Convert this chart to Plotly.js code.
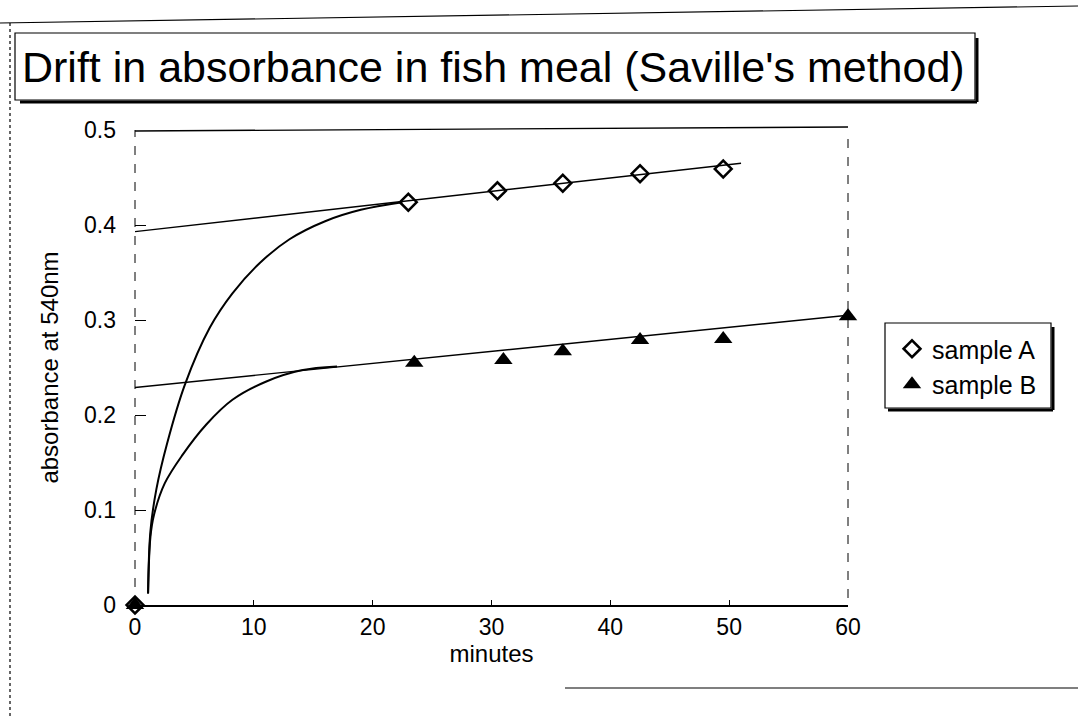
<!DOCTYPE html>
<html>
<head>
<meta charset="utf-8">
<script src="https://cdn.plot.ly/plotly-3.0.1.min.js"></script>
<style>html,body{margin:0;padding:0;background:#fff;}#chart{width:1078px;height:716px;}</style>
</head>
<body>
<div id="chart"></div>
<script>
// ---- data ----
const sampleA_x = [0, 23, 30.5, 36, 42.5, 49.5];
const sampleA_y = [0, 0.424, 0.436, 0.444, 0.454, 0.459];
const sampleB_x = [0, 23.5, 31, 36, 42.5, 49.5, 60];
const sampleB_y = [0, 0.255, 0.258, 0.267, 0.279, 0.280, 0.304];
// hand-drawn drift curves
const curveA_x = [1.1, 1.3, 1.8, 2.7, 4.2, 6.3, 8.2, 10.5, 13, 16, 19, 22.5];
const curveA_y = [0.012, 0.078, 0.122, 0.170, 0.232, 0.292, 0.328, 0.360, 0.385, 0.404, 0.416, 0.424];
const curveB_x = [1.1, 1.3, 1.6, 2.5, 4.0, 6.0, 8.2, 11, 14, 17];
const curveB_y = [0.012, 0.072, 0.095, 0.128, 0.158, 0.19, 0.216, 0.235, 0.247, 0.251];
// straight extrapolation lines
const lineA_x = [0, 51];
const lineA_y = [0.393, 0.465];
const lineB_x = [0, 60];
const lineB_y = [0.229, 0.305];
const xTicks = [0, 10, 20, 30, 40, 50, 60];
const yTicks = [0, 0.1, 0.2, 0.3, 0.4, 0.5];
const yTickText = ['0', '0.1', '0.2', '0.3', '0.4', '0.5'];

// ---- layout geometry (pixels) ----
const W = 1078, H = 716;
const L = 135, R = 848, T = 130, B = 605;
const pw = R - L, ph = B - T;
const px = v => (v - L) / pw;
const py = v => (B - v) / ph;
const FONT = 'Liberation Sans, Arial, sans-serif';

const lineStyle = {color: '#000', width: 1.4};
const traces = [
  {x: lineA_x, y: lineA_y, mode: 'lines', line: lineStyle, showlegend: false, hoverinfo: 'skip'},
  {x: lineB_x, y: lineB_y, mode: 'lines', line: lineStyle, showlegend: false, hoverinfo: 'skip'},
  {x: curveA_x, y: curveA_y, mode: 'lines', line: {color: '#000', width: 2, shape: 'spline', smoothing: 1}, showlegend: false, hoverinfo: 'skip'},
  {x: curveB_x, y: curveB_y, mode: 'lines', line: {color: '#000', width: 2, shape: 'spline', smoothing: 1}, showlegend: false, hoverinfo: 'skip'},
  {x: sampleA_x, y: sampleA_y, name: 'sample A', mode: 'markers', cliponaxis: false,
   marker: {symbol: 'diamond-open', size: 13, color: '#000', line: {width: 2.5, color: '#000'}}},
  {x: sampleB_x, y: sampleB_y, name: 'sample B', mode: 'markers', cliponaxis: false,
   marker: {symbol: 'triangle-up', size: 16, color: '#000'}}
];

const shapes = [
  // plot frame: dashed verticals, solid top
  {type: 'line', xref: 'paper', yref: 'paper', x0: 0, x1: 0, y0: 0, y1: 1, line: {color: '#000', width: 1, dash: 'dash'}},
  {type: 'line', xref: 'paper', yref: 'paper', x0: 1, x1: 1, y0: py(598), y1: 1, line: {color: '#000', width: 1, dash: 'dash'}},
  {type: 'line', xref: 'paper', yref: 'paper', x0: 0, x1: 1, y0: py(131), y1: py(127), line: {color: '#000', width: 1.4}},
  // title box with shadow
  {type: 'rect', xref: 'paper', yref: 'paper', x0: px(15), x1: px(975), y0: py(100), y1: py(33), line: {color: '#000', width: 1.2}},
  {type: 'line', xref: 'paper', yref: 'paper', x0: px(977), x1: px(977), y0: py(102), y1: py(38), line: {color: '#000', width: 3}},
  {type: 'line', xref: 'paper', yref: 'paper', x0: px(20), x1: px(977), y0: py(102), y1: py(102), line: {color: '#000', width: 3}},
  // legend box with shadow
  {type: 'rect', xref: 'paper', yref: 'paper', x0: px(885), x1: px(1051), y0: py(408), y1: py(323), line: {color: '#000', width: 1.2}},
  {type: 'line', xref: 'paper', yref: 'paper', x0: px(1053), x1: px(1053), y0: py(410), y1: py(327), line: {color: '#000', width: 3}},
  {type: 'line', xref: 'paper', yref: 'paper', x0: px(888), x1: px(1053), y0: py(410), y1: py(410), line: {color: '#000', width: 3}},
  // outer page frame (scan)
  {type: 'line', xref: 'paper', yref: 'paper', x0: px(10), x1: px(10), y0: py(716), y1: py(22), line: {color: '#000', width: 1.2, dash: 'dot'}},
  {type: 'line', xref: 'paper', yref: 'paper', x0: px(0), x1: px(1078), y0: py(23), y1: py(6), line: {color: '#000', width: 1.2}},
  {type: 'line', xref: 'paper', yref: 'paper', x0: px(565), x1: px(1078), y0: py(688), y1: py(688), line: {color: '#000', width: 1.2}}
];

const layout = {
  width: W, height: H,
  paper_bgcolor: '#fff', plot_bgcolor: '#fff',
  margin: {l: L, r: W - R, t: T, b: H - B, pad: 0},
  font: {family: FONT, color: '#000', size: 23},
  title: {text: "Drift in absorbance in fish meal (Saville's method)", font: {family: FONT, size: 43, color: '#000'},
          xref: 'container', yref: 'container', x: 22 / W, xanchor: 'left', y: 1 - 67 / H, yanchor: 'middle'},
  xaxis: {range: [0, 60], tickvals: xTicks, ticks: 'inside', ticklen: 5, tickcolor: '#000',
          showline: true, linecolor: '#000', linewidth: 1.6, showgrid: false, zeroline: false,
          tickfont: {size: 23}, ticklabelstandoff: 1,
          title: {text: 'minutes', font: {size: 24}, standoff: 0}},
  yaxis: {range: [0, 0.5], tickvals: yTicks, ticktext: yTickText, ticks: 'inside', ticklen: 11, tickcolor: '#000',
          showline: false, showgrid: false, zeroline: false,
          tickfont: {size: 23}, ticklabelstandoff: 18,
          title: {text: 'absorbance at 540nm', font: {size: 24}, standoff: 18}},
  showlegend: true,
  legend: {x: px(892), y: py(326), xanchor: 'left', yanchor: 'top', bgcolor: 'rgba(0,0,0,0)',
           borderwidth: 0, font: {size: 25}, itemwidth: 30, tracegroupgap: 0},
  shapes: shapes
};

Plotly.newPlot('chart', traces, layout, {displayModeBar: false, staticPlot: true});
</script>
</body>
</html>
